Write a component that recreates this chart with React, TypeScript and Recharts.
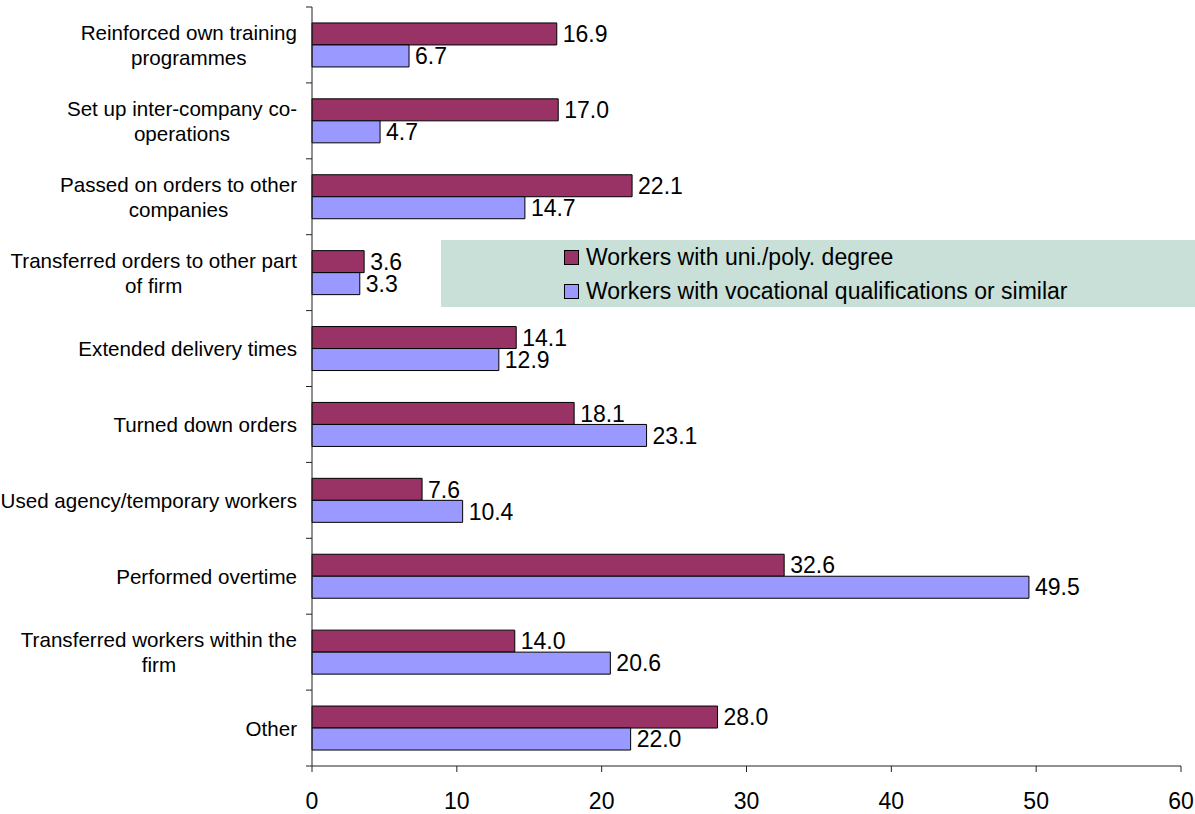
import { Bar, BarChart, LabelList, Legend, XAxis, YAxis } from "recharts";

const categories = [
  "Reinforced own training\nprogrammes",
  "Set up inter-company co-\noperations",
  "Passed on orders to other\ncompanies",
  "Transferred orders to other part\nof firm",
  "Extended delivery times",
  "Turned down orders",
  "Used agency/temporary workers",
  "Performed overtime",
  "Transferred workers within the\nfirm",
  "Other",
];
const uniDegree = [16.9, 17.0, 22.1, 3.6, 14.1, 18.1, 7.6, 32.6, 14.0, 28.0];
const vocational = [6.7, 4.7, 14.7, 3.3, 12.9, 23.1, 10.4, 49.5, 20.6, 22.0];
const xTicks = [0, 10, 20, 30, 40, 50, 60];

const UNI_COLOR = "#993366";
const VOC_COLOR = "#9999ff";
const AXIS_COLOR = "#222";
const FONT = "'Liberation Sans', Arial, sans-serif";
const CAT_FONT_SIZE = 20.6;
const FONT_SIZE = 23;

const WIDTH = 1195;
const HEIGHT = 814;
const MARGIN = { top: 7, right: 14, bottom: 0, left: 0 };
const Y_AXIS_W = 312;
const X_AXIS_H = 48;
const BAND = (HEIGHT - MARGIN.top - MARGIN.bottom - X_AXIS_H) / categories.length;
const LINE_H = 25;

const data = categories.map((name, i) => ({
  name,
  uni: uniDegree[i],
  voc: vocational[i],
}));

let ctx: CanvasRenderingContext2D | null = null;
function textWidth(s: string) {
  if (!ctx) ctx = document.createElement("canvas").getContext("2d");
  if (!ctx) return s.length * 10;
  ctx.font = `${CAT_FONT_SIZE}px ${FONT}`;
  return ctx.measureText(s).width;
}

// category labels are centred blocks, right-aligned to the axis; tick marks sit between bands
function CategoryTick(props: any) {
  const { y, payload, index } = props;
  const axisX = MARGIN.left + Y_AXIS_W;
  const lines = String(payload.value).split("\n");
  const widest = Math.max(...lines.map(textWidth));
  const cx = axisX - 15 - widest / 2;
  const top = y - ((lines.length - 1) * LINE_H) / 2;
  return (
    <g>
      <line x1={axisX - 6} x2={axisX} y1={y - BAND / 2} y2={y - BAND / 2} stroke={AXIS_COLOR} />
      {index === categories.length - 1 && (
        <line x1={axisX - 6} x2={axisX} y1={y + BAND / 2} y2={y + BAND / 2} stroke={AXIS_COLOR} />
      )}
      {lines.map((l, i) => (
        <text
          key={i}
          x={cx}
          y={top + i * LINE_H}
          textAnchor="middle"
          dominantBaseline="central"
          fontSize={CAT_FONT_SIZE}
          fontFamily={FONT}
          fill="#000"
        >
          {l}
        </text>
      ))}
    </g>
  );
}

function LegendBox(props: any) {
  const { payload } = props;
  return (
    <div
      style={{
        width: "100%",
        height: "100%",
        background: "#c8e0d8",
        boxSizing: "border-box",
        paddingLeft: 123,
        paddingTop: 0,
        fontFamily: FONT,
        fontSize: FONT_SIZE,
        color: "#000",
      }}
    >
      {(payload || []).map((entry: any) => (
        <div key={entry.value} style={{ display: "flex", alignItems: "center", height: 34, lineHeight: "34px" }}>
          <span
            style={{
              width: 13,
              height: 13,
              background: entry.color,
              border: "1px solid #000",
              marginRight: 7,
              display: "inline-block",
              flex: "none",
            }}
          />
          <span style={{ whiteSpace: "nowrap" }}>{entry.value}</span>
        </div>
      ))}
    </div>
  );
}

export default function App() {
  return (
    <div style={{ position: "absolute", left: 0, top: 0, background: "#fff" }}>
      <BarChart
        width={WIDTH}
        height={HEIGHT}
        data={data}
        layout="vertical"
        margin={MARGIN}
        barCategoryGap="21%"
        barGap={0}
      >
        <XAxis
          type="number"
          domain={[0, 60]}
          ticks={xTicks}
          height={X_AXIS_H}
          tickSize={6}
          tickMargin={21}
          stroke={AXIS_COLOR}
          tick={{ fontSize: FONT_SIZE, fontFamily: FONT, fill: "#000" }}
        />
        <YAxis
          type="category"
          dataKey="name"
          width={Y_AXIS_W}
          tickLine={false}
          stroke={AXIS_COLOR}
          interval={0}
          tick={<CategoryTick />}
        />
        <Legend
          layout="vertical"
          align="center"
          verticalAlign="middle"
          content={<LegendBox />}
          wrapperStyle={{ left: 441, top: 240, width: WIDTH - 441, height: 67 }}
        />
        <Bar
          dataKey="uni"
          name="Workers with uni./poly. degree"
          fill={UNI_COLOR}
          stroke="#000"
          strokeWidth={1}
          isAnimationActive={false}
        >
          <LabelList
            dataKey="uni"
            position="right"
            offset={6}
            formatter={(v: any) => Number(v).toFixed(1)}
            style={{ fontSize: FONT_SIZE, fontFamily: FONT, fill: "#000" }}
          />
        </Bar>
        <Bar
          dataKey="voc"
          name="Workers with vocational qualifications or similar"
          fill={VOC_COLOR}
          stroke="#000"
          strokeWidth={1}
          isAnimationActive={false}
        >
          <LabelList
            dataKey="voc"
            position="right"
            offset={6}
            formatter={(v: any) => Number(v).toFixed(1)}
            style={{ fontSize: FONT_SIZE, fontFamily: FONT, fill: "#000" }}
          />
        </Bar>
      </BarChart>
    </div>
  );
}
